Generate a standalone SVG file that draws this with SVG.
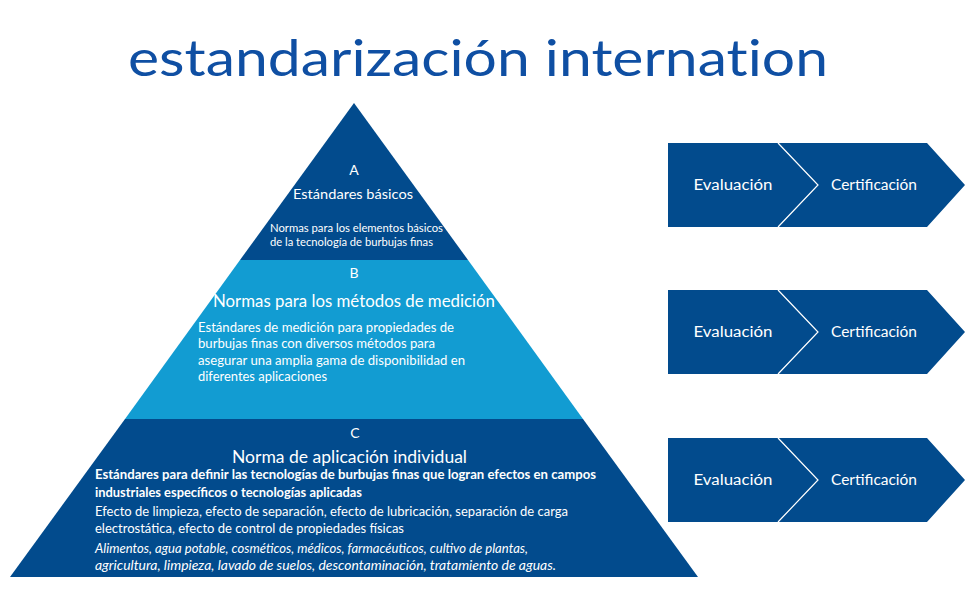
<svg xmlns="http://www.w3.org/2000/svg" width="973" height="615" viewBox="0 0 973 615">
<style>
.dk{fill:#024b8d}
.lt{fill:#129cd2}
.t{font-family:Lato,"Liberation Sans",sans-serif;fill:#ffffff}
.c{text-anchor:middle}
.sep{fill:none;stroke:#ffffff;stroke-width:1.2}
</style>
<rect width="973" height="615" fill="#ffffff"/>
<text id="title" x="128" y="76" textLength="700" lengthAdjust="spacingAndGlyphs" font-family="Lato,'DejaVu Sans',sans-serif" font-size="50" fill="#0f4fa3" style="font-variant-ligatures:none">estandarización internation</text>

<g id="levelA">
<polygon class="dk" points="354,103 240,260 468,260"/>
<text class="t c" x="354" y="175" font-size="14">A</text>
<text class="t c" x="353" y="199" font-size="14" textLength="120" lengthAdjust="spacingAndGlyphs">Estándares básicos</text>
<text class="t" x="270" y="232" font-size="11.5" textLength="173" lengthAdjust="spacingAndGlyphs">Normas para los elementos básicos</text>
<text class="t" x="270" y="246" font-size="11.5" textLength="163" lengthAdjust="spacingAndGlyphs">de la tecnología de burbujas finas</text>
</g>

<g id="levelB">
<polygon class="lt" points="240,260 468,260 583,419 125,419"/>
<text class="t c" x="354" y="278" font-size="14">B</text>
<text class="t" x="213" y="307" font-size="17" textLength="282" lengthAdjust="spacingAndGlyphs">Normas para los métodos de medición</text>
<text class="t" x="198" y="332" font-size="13" textLength="256" lengthAdjust="spacingAndGlyphs">Estándares de medición  para propiedades de</text>
<text class="t" x="198" y="348" font-size="13" textLength="237" lengthAdjust="spacingAndGlyphs">burbujas finas con diversos métodos para</text>
<text class="t" x="198" y="365" font-size="13" textLength="267" lengthAdjust="spacingAndGlyphs">asegurar una amplia gama de disponibilidad en</text>
<text class="t" x="198" y="381" font-size="13" textLength="129" lengthAdjust="spacingAndGlyphs">diferentes aplicaciones</text>
</g>

<g id="levelC">
<polygon class="dk" points="125,419 583,419 698,577 10,577"/>
<text class="t c" x="355" y="438" font-size="14">C</text>
<text class="t" x="232" y="463" font-size="17" textLength="235" lengthAdjust="spacingAndGlyphs">Norma de aplicación individual</text>
<text class="t" x="95" y="479" font-size="13" font-weight="bold" textLength="501" lengthAdjust="spacingAndGlyphs">Estándares para definir las tecnologías de burbujas finas que logran efectos en campos</text>
<text class="t" x="95" y="497" font-size="13" font-weight="bold" textLength="267" lengthAdjust="spacingAndGlyphs">industriales específicos o tecnologías aplicadas</text>
<text class="t" x="95" y="516" font-size="13" textLength="473" lengthAdjust="spacingAndGlyphs">Efecto de limpieza, efecto de separación, efecto de lubricación, separación de carga</text>
<text class="t" x="95" y="533" font-size="13" textLength="309" lengthAdjust="spacingAndGlyphs">electrostática, efecto de control de propiedades físicas</text>
<text class="t" x="95" y="553" font-size="13" font-style="italic" textLength="433" lengthAdjust="spacingAndGlyphs">Alimentos, agua potable, cosméticos, médicos, farmacéuticos, cultivo de plantas,</text>
<text class="t" x="95" y="570" font-size="13" font-style="italic" textLength="461" lengthAdjust="spacingAndGlyphs">agricultura, limpieza, lavado de suelos, descontaminación, tratamiento de aguas.</text>
</g>

<g id="flow1">
<polygon class="dk" points="668,143 778,143 818,185 778,227 668,227"/>
<polygon class="dk" points="778,143 927,143 965,185 927,227 778,227 818,185"/>
<polyline class="sep" points="778,143 818,185 778,227"/>
<text class="t c" x="733" y="190" font-size="15.5" textLength="79" lengthAdjust="spacingAndGlyphs">Evaluación</text>
<text class="t c" x="874" y="190" font-size="15.5" textLength="86" lengthAdjust="spacingAndGlyphs">Certificación</text>
</g>

<g id="flow2">
<polygon class="dk" points="668,290 778,290 818,332 778,374 668,374"/>
<polygon class="dk" points="778,290 927,290 965,332 927,374 778,374 818,332"/>
<polyline class="sep" points="778,290 818,332 778,374"/>
<text class="t c" x="733" y="337" font-size="15.5" textLength="79" lengthAdjust="spacingAndGlyphs">Evaluación</text>
<text class="t c" x="874" y="337" font-size="15.5" textLength="86" lengthAdjust="spacingAndGlyphs">Certificación</text>
</g>

<g id="flow3">
<polygon class="dk" points="668,438 778,438 818,480 778,522 668,522"/>
<polygon class="dk" points="778,438 927,438 965,480 927,522 778,522 818,480"/>
<polyline class="sep" points="778,438 818,480 778,522"/>
<text class="t c" x="733" y="485" font-size="15.5" textLength="79" lengthAdjust="spacingAndGlyphs">Evaluación</text>
<text class="t c" x="874" y="485" font-size="15.5" textLength="86" lengthAdjust="spacingAndGlyphs">Certificación</text>
</g>

<g id="connectors"></g>
</svg>
